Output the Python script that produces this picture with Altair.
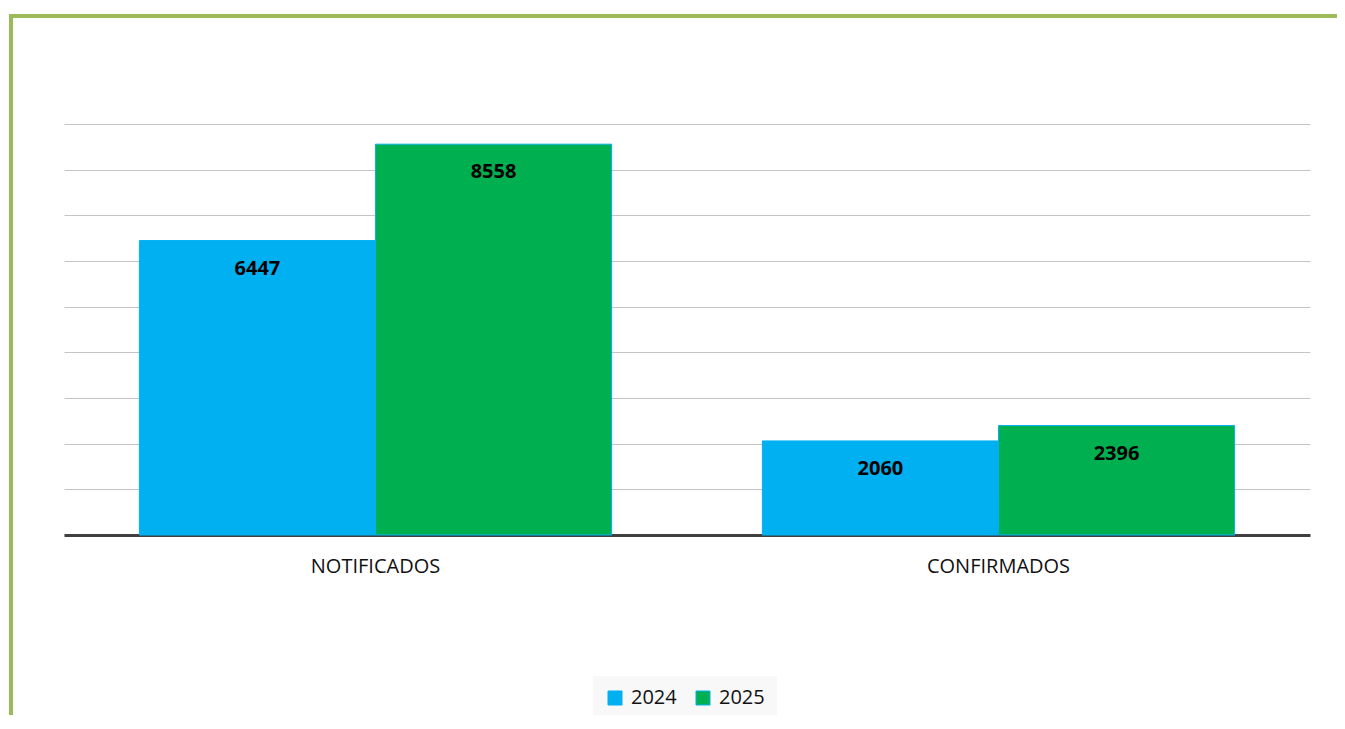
import altair as alt
import pandas as pd

categories = ["NOTIFICADOS", "CONFIRMADOS"]
years = ["2024", "2025"]
values_2024 = [6447, 2060]
values_2025 = [8558, 2396]

rows = []
for i, c in enumerate(categories):
    rows.append({"cat": c, "year": "2024", "value": values_2024[i]})
    rows.append({"cat": c, "year": "2025", "value": values_2025[i]})
df = pd.DataFrame(rows)

FONT = "Open Sans"

x_enc = alt.X("cat:N", sort=categories, title=None,
              scale=alt.Scale(paddingInner=0.242, paddingOuter=0.121),
              axis=alt.Axis(labelAngle=0, ticks=False, domainColor="#404040",
                            domainWidth=3, labelFontSize=20, labelColor="#111111",
                            labelFont=FONT, labelPadding=21))
xoff = alt.XOffset("year:N", sort=years, scale=alt.Scale(paddingInner=0, paddingOuter=0))
y_enc = alt.Y("value:Q", title=None,
              scale=alt.Scale(domain=[0, 9000], nice=False),
              axis=alt.Axis(values=list(range(0, 9001, 1000)), labels=False, ticks=False,
                            domain=False, grid=True, gridColor="#c4c4c4", gridWidth=1))

color = alt.Color("year:N", sort=years, title=None,
                  scale=alt.Scale(domain=years, range=["#00B0F0", "#00B050"]),
                  legend=alt.Legend(orient="none", legendX=529, legendY=552,
                                    direction="horizontal", fillColor="#f8f8f8",
                                    padding=12, symbolType="square", symbolSize=196,
                                    symbolStrokeColor="#00B0F0", symbolStrokeWidth=1,
                                    symbolOpacity=1,
                                    labelFontSize=20, labelFont=FONT, labelColor="#111111",
                                    labelOffset=6, columnPadding=16))

bars = alt.Chart(df).mark_bar(stroke="#00B0F0", strokeWidth=1).encode(
    x=x_enc, xOffset=xoff, y=y_enc, color=color
)

labels = alt.Chart(df).mark_text(fontWeight="bold", fontSize=20, font=FONT,
                                 baseline="middle", dy=28, color="#000000").encode(
    x=alt.X("cat:N", sort=categories), xOffset=alt.XOffset("year:N", sort=years),
    y="value:Q", text="value:Q"
)

one = pd.DataFrame({"a": [0]})
top_border = alt.Chart(one).mark_rule(color="#9BBB59", strokeWidth=4, clip=False).encode(
    x=alt.value(-55), x2=alt.value(1280), y=alt.value(-108))
left_border = alt.Chart(one).mark_rule(color="#9BBB59", strokeWidth=4, clip=False).encode(
    x=alt.value(-53), y=alt.value(-110), y2=alt.value(600))

chart = alt.layer(bars, labels, top_border, left_border).properties(
    width=1246, height=411,
    autosize=alt.AutoSizeParams(type="none"),
    padding={"left": 56, "top": 116, "right": 27, "bottom": 180},
).configure_view(stroke=None)

chart.save("out.html", embed_options={"renderer": "svg", "actions": False})
